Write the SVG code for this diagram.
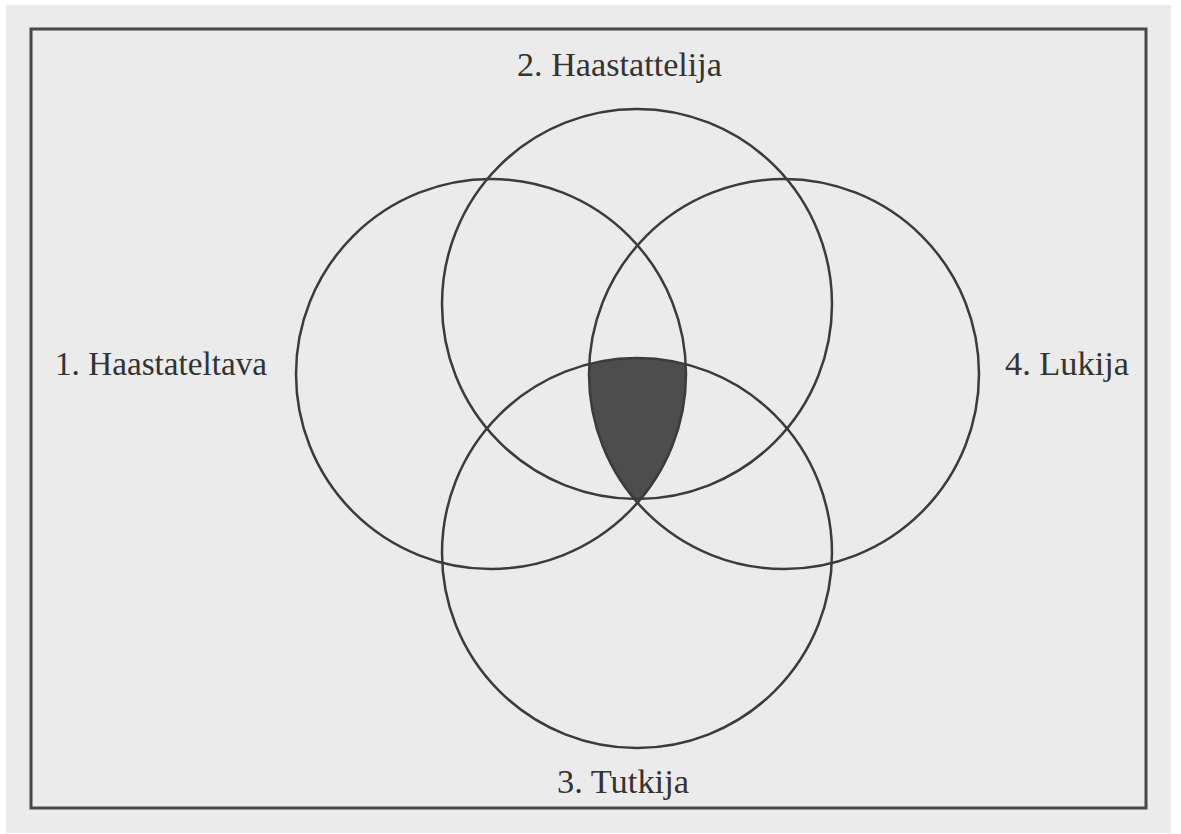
<svg xmlns="http://www.w3.org/2000/svg" width="1181" height="834" viewBox="0 0 1181 834">
  <style>
    .ring { fill: none; stroke: #3b3b3b; stroke-width: 2.5; }
    .label { font-family: "Liberation Serif", "DejaVu Serif", serif; font-size: 34px; fill: #333333; }
    .frame { fill: none; stroke: #474747; stroke-width: 3; }
    .core { fill: #4d4d4d; stroke: none; }
  </style>
  <rect x="0" y="0" width="1181" height="834" fill="#ffffff"/>
  <rect x="6" y="5" width="1165" height="828" fill="#ebebeb"/>
  <rect id="frame" class="frame" x="31" y="29" width="1115" height="779"/>

  <g id="intersection">
    <path class="core" d="M 589.3 364.0 A 195 195 0 0 1 685.75 364.2 A 195 195 0 0 1 640.6 498.9 A 195 195 0 0 1 634.3 499 A 195 195 0 0 1 589.3 364.0 Z"/>
  </g>

  <g id="node-haastateltava">
    <circle class="ring" cx="491" cy="374" r="195"/>
    <text class="label" x="55" y="375" textLength="212" lengthAdjust="spacingAndGlyphs">1. Haastateltava</text>
  </g>
  <g id="node-haastattelija">
    <circle class="ring" cx="637" cy="304" r="195"/>
    <text class="label" x="517" y="76" textLength="205" lengthAdjust="spacingAndGlyphs">2. Haastattelija</text>
  </g>
  <g id="node-tutkija">
    <circle class="ring" cx="637" cy="553" r="195"/>
    <text class="label" x="557" y="793" textLength="132" lengthAdjust="spacingAndGlyphs">3. Tutkija</text>
  </g>
  <g id="node-lukija">
    <circle class="ring" cx="784" cy="374" r="195"/>
    <text class="label" x="1005" y="375" textLength="124" lengthAdjust="spacingAndGlyphs">4. Lukija</text>
  </g>
  <g id="connectors"/>
</svg>
